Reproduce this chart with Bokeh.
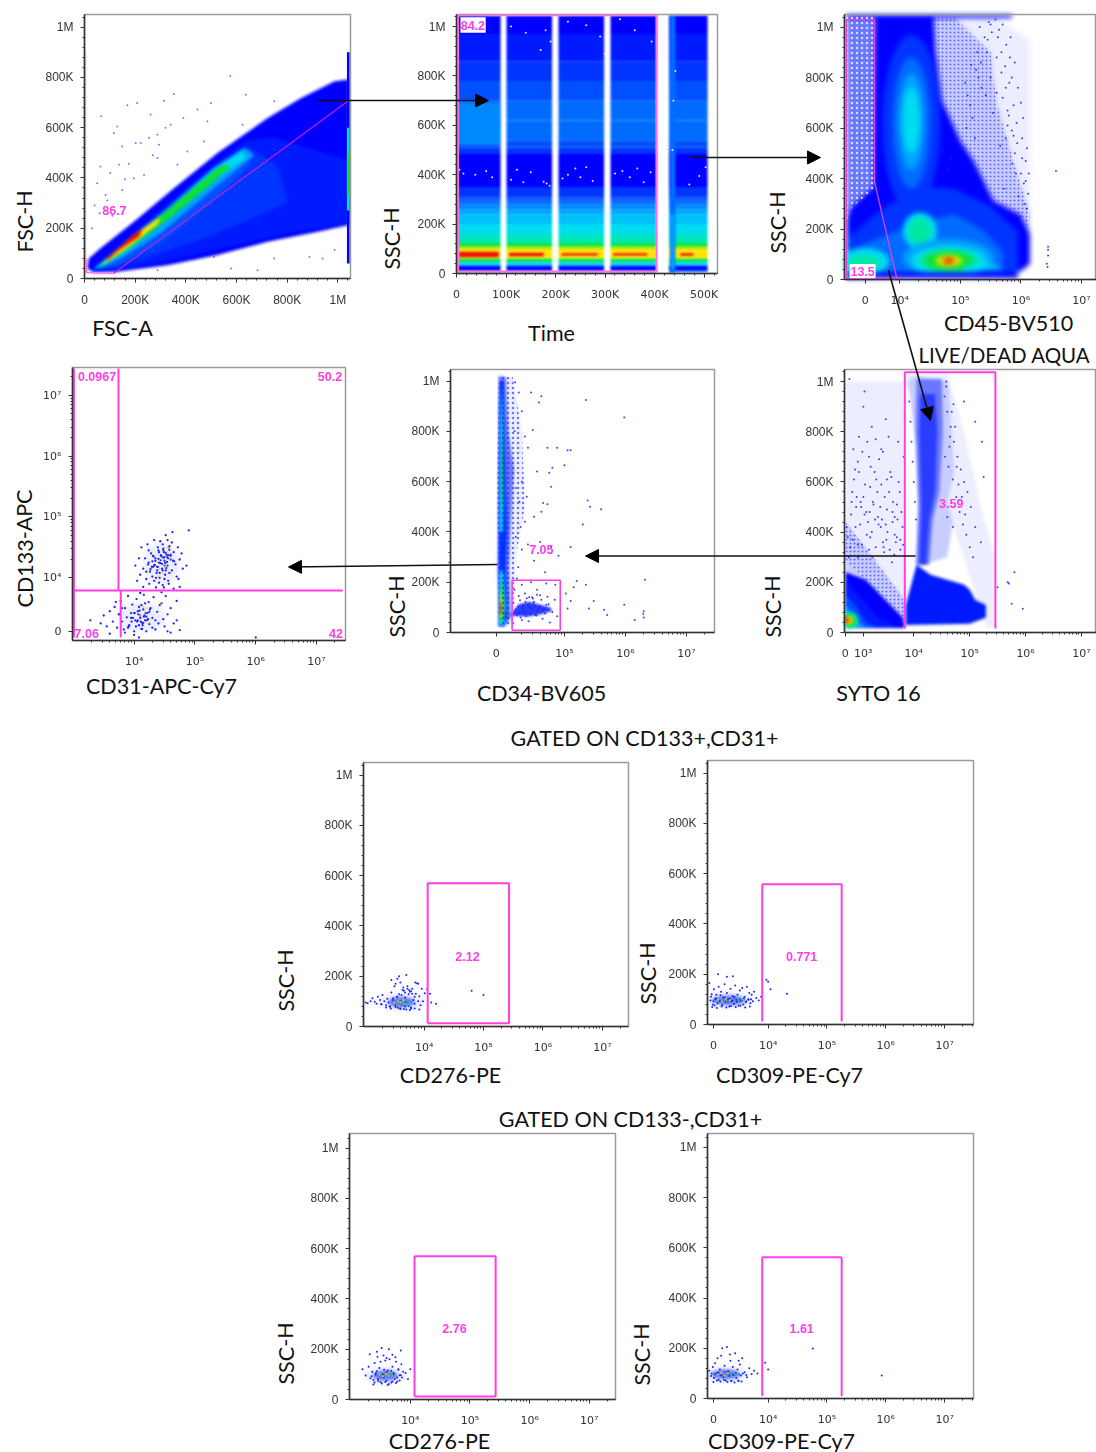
from bokeh.plotting import figure
from bokeh.models import FixedTicker, Range1d, Arrow, NormalHead
from bokeh.embed import file_html
from bokeh.resources import INLINE
from bokeh.core.properties import value
import math

# ---------- density palette (level -> colour) ----------
PALETTE = {-3: "#eceeff", -2: "#c8ccff", -1: "#6a78ff", -0.5: "#2a3cff", 0: "#0000ff", 0.5: "#001aff", 1: "#0034ff", 1.5: "#0050ff",
           2: "#006cff", 2.5: "#0088ff", 3: "#00a4ff", 3.5: "#00c0f8", 4: "#00dcf0", 4.5: "#00e4c8", 5: "#00e8a0", 6: "#10e030",
           7: "#a8f000", 8: "#ffe000", 9: "#ff8000", 10: "#f01000"}
MAGENTA = "#ff3ce6"

# ---------- axes ----------
k_ticks = [0, 200, 400, 600, 800, 1000]
k_labels = ["0", "200K", "400K", "600K", "800K", "1M"]
k_minor = [40, 80, 120, 160, 240, 280, 320, 360, 440, 480, 520, 560, 640, 680, 720, 760, 840, 880, 920, 960, 1040]
t_ticks = [0, 100, 200, 300, 400, 500]
t_labels = ["0", "100K", "200K", "300K", "400K", "500K"]
t_minor = [20, 40, 60, 80, 120, 140, 160, 180, 220, 240, 260, 280, 320, 340, 360, 380, 420, 440, 460, 480, 520]
dec_labels = ["10⁴", "10⁵", "10⁶", "10⁷"]
dec_ticks = [4, 5, 6, 7]

# ---------- panel 1: FSC-A / FSC-H (K) ----------
fsc_level = [0, 0.5, 1, 1.5, 3, 4, 6, 8, 10]
fsc_x = [[11, 17, 63, 195, 353, 525, 723, 855, 987, 1043, 1043, 921, 723, 525, 327, 129, 37],
         [30, 100, 200, 320, 510, 640, 750, 1043, 1043, 800, 500, 300, 130],
         [30, 100, 200, 320, 510, 640, 680, 760, 780, 800, 500, 300, 130],
         [30, 100, 200, 320, 510, 640, 670, 640, 500, 300, 130],
         [40, 100, 200, 320, 510, 630, 670, 500, 300, 150, 70],
         [45, 100, 200, 320, 510, 620, 640, 500, 300, 170, 80],
         [60, 100, 200, 315, 420, 540, 580, 480, 320, 180, 90],
         [70, 100, 190, 270, 300, 290, 180, 90],
         [80, 100, 195, 230, 215, 130, 95]]
fsc_y = [[40, 80, 120, 226, 359, 499, 638, 718, 785, 791, 213, 186, 146, 93, 53, 27, 24],
         [32, 95, 185, 285, 450, 550, 560, 470, 220, 180, 110, 65, 35],
         [32, 95, 182, 280, 445, 525, 500, 450, 380, 300, 170, 100, 45],
         [36, 92, 180, 275, 442, 522, 495, 440, 300, 140, 50],
         [40, 90, 175, 270, 440, 520, 490, 350, 180, 85, 45],
         [45, 90, 170, 265, 432, 505, 480, 385, 215, 110, 55],
         [55, 90, 170, 262, 350, 450, 450, 360, 228, 122, 66],
         [60, 88, 170, 225, 245, 218, 130, 68],
         [68, 90, 175, 198, 166, 108, 76]]
fsc_edge_lo = [60, 270, 330]
fsc_edge_hi = [900, 600, 500]
fsc_edge_level = [0, 4, 6]
fsc_dot_x = [575, 353, 314, 208, 169, 66, 129, 116, 222, 202, 149, 63, 136, 175, 235, 195, 50, 149, 83, 288, 294, 446, 390, 499, 637, 749,
             624, 485, 340, 261, 288, 367, 472, 406, 578, 683, 749, 288, 888, 940, 987, 512, 433, 102, 40, 90, 270, 320, 255, 160, 30, 110, 60]
fsc_dot_y = [805, 734, 707, 698, 689, 645, 605, 578, 539, 539, 525, 445, 452, 456, 412, 399, 379, 352, 332, 572, 532, 672, 638, 698, 731, 705,
             612, 625, 612, 652, 479, 452, 545, 505, 40, 33, 80, 33, 86, 80, 113, 86, 80, 420, 290, 310, 490, 600, 560, 395, 200, 250, 260]
fsc_gate_x = [8, 8, 116, 1039]
fsc_gate_y = [80, 24, 21, 705]

# ---------- panel 2: Time / SSC-H (K) ----------
time_band_start = [3, 101, 206, 311, 429]
time_band_end = [89, 193, 298, 404, 507]
time_low = [5, 13, 31, 42, 51, 60, 65, 89, 99, 109, 119, 140, 160, 200, 240, 260, 280, 295, 308, 350, 484, 510, 540, 620, 700, 780, 860, 970]
time_high = [13, 31, 42, 51, 60, 65, 89, 99, 109, 119, 140, 160, 200, 240, 260, 280, 295, 308, 350, 484, 510, 540, 620, 700, 780, 860, 970, 1045]
time_level = [2, 0, 3.5, 4.5, 6, 7, 8, 8, 7, 6, 5, 4.5, 4, 3.5, 3, 2.5, 2, 1.5, 1, 0, 1, 1.5, 2, 2, 1.5, 1, 0.5, 0]
time_red_start = [5, 106, 212, 316, 452]
time_red_end = [85, 176, 285, 385, 478]
time_red_low = [66, 70, 73, 73, 72]
time_red_high = [88, 84, 82, 82, 82]
time_bright_start = [3]
time_bright_end = [89]
time_bright_low = [520]
time_bright_high = [690]
time_white_x = [6, 14, 38, 60, 72, 110, 122, 135, 150, 176, 182, 188, 214, 225, 240, 250, 262, 275, 320, 335, 350, 365, 378, 392, 470, 490,
                503, 110, 140, 180, 190, 225, 262, 290, 330, 360, 394, 170, 300, 438, 442, 436]
time_white_y = [420, 405, 400, 415, 390, 380, 420, 370, 410, 372, 365, 355, 385, 400, 425, 390, 430, 375, 405, 415, 390, 425, 370, 410, 360, 395,
                430, 1000, 975, 985, 940, 1020, 1005, 960, 1030, 985, 940, 905, 890, 700, 820, 500]
time_strip_start = [431, 433]
time_strip_end = [442, 440]
time_strip_low = [0, 20]
time_strip_high = [1045, 240]
time_strip_level = [2, 3]

# ---------- panel 3: CD45 (decades) / SSC-H (K) ----------
cd45_x_ticks = [3.43, 4, 5, 6, 7]
cd45_x_labels = ["0", "10⁴", "10⁵", "10⁶", "10⁷"]
cd45_level = [-1, -3, -2, 0, 1, 2]
cd45_x = [[3.12, 3.12, 3.6, 3.6, 3.21],
          [4.9, 5.55, 6.15, 6.15, 5.9, 5.6, 5.5],
          [4.56, 4.9, 5.5, 5.6, 5.9, 6.15, 6.15, 5.99, 5.55, 5.22, 5.0, 4.7, 4.59],
          [3.12, 3.12, 3.21, 3.57, 3.6, 4.56, 4.59, 4.7, 5.0, 5.22, 5.55, 5.99, 6.15, 6.15, 5.99, 5.55, 3.9],
          [3.12, 3.12, 3.6, 4.3, 4.9, 5.5, 5.95, 5.95, 3.9],
          [3.14, 3.14, 3.7, 4.4, 4.9, 5.4, 5.7, 5.7, 3.9]]
cd45_y = [[233, 1045, 1045, 365, 286],
          [1040, 1040, 950, 260, 450, 700, 900],
          [1040, 1040, 900, 700, 450, 260, 180, 259, 312, 471, 550, 709, 907],
          [1, 233, 286, 365, 1040, 1040, 907, 709, 550, 471, 312, 259, 180, 61, 32, 15, 8],
          [30, 160, 260, 370, 360, 290, 190, 30, 25],
          [30, 110, 170, 230, 260, 190, 110, 30, 28]]
cd45_left_x = [[3.12, 3.12, 3.6, 3.6, 3.21]]
cd45_left_y = [[233, 1045, 1045, 365, 286]]
cd45_dense_x = [[4.56, 4.9, 5.5, 5.6, 5.9, 6.15, 6.15, 5.99, 5.55, 5.22, 5.0, 4.7, 4.59]]
cd45_dense_y = [[1040, 1040, 900, 700, 450, 260, 180, 259, 312, 471, 550, 709, 907]]
cd45_e_x = [4.19, 4.19, 4.19, 4.19, 4.19, 4.33, 4.33, 4.8, 4.81, 4.81, 4.81, 4.81, 4.81, 4.81, 4.81, 5.35, 3.42, 3.42]
cd45_e_y = [620, 620, 625, 630, 630, 193, 190, 85, 74, 74, 74, 74, 74, 74, 74, 52, 72, 68]
cd45_e_w = [.95, .62, .42, .28, .2, .56, .37, 1.5, 1.25, 1.0, .78, .46, .33, .23, .14, .6, .8, .52]
cd45_e_h = [700, 520, 380, 260, 190, 145, 105, 150, 115, 95, 72, 48, 38, 28, 17, 22, 105, 56]
cd45_e_level = [1, 2, 3, 4, 4, 4, 5, 3, 4, 5, 6, 7, 8, 9, 10, 4, 4, 5]
cd45_strip_start = [3.12, 3.12, 3.12]
cd45_strip_end = [5.95, 3.14, 5.85]
cd45_strip_low = [5, 5, 1036]
cd45_strip_high = [28, 240, 1050]
cd45_strip_level = [0, 4, 0]
cd45_gate_x = [3.12, 3.12, 3.58, 3.58, 3.95, 3.12]
cd45_gate_y = [5, 1030, 1030, 390, 5, 5]
cd45_dot_x = [6.45, 6.45, 6.45, 6.43, 6.44, 6.58, 5.1, 4.95, 5.05, 4.85, 5.2, 4.8, 4.7, 5.3, 5.35, 5.7, 5.8, 5.75, 5.9, 6.0, 6.05, 5.85, 5.6, 5.45, 5.5,
              5.62, 5.68, 5.74, 5.81, 5.88, 5.93, 6.02, 6.08, 6.12, 5.96, 5.78, 5.66, 5.54, 5.42, 5.34, 5.28, 5.16, 5.08, 5.24, 5.92, 6.1, 5.86, 5.72, 5.98, 6.06,
              5.58, 5.64, 5.7, 5.76, 5.83, 5.9, 5.95, 6.0, 6.04, 6.1, 6.13, 5.52, 5.47, 5.4, 5.32, 5.26, 5.18, 5.12, 5.68, 5.75, 5.82, 5.88, 5.94, 6.02, 6.08, 5.6, 5.5, 5.44, 5.78, 5.85]
cd45_dot_y = [130, 118, 95, 62, 50, 430, 600, 560, 520, 480, 640, 440, 510, 800, 760, 720, 650, 560, 500, 420, 380, 800, 880, 950, 1010,
              960, 900, 845, 780, 690, 620, 560, 470, 340, 330, 610, 530, 660, 730, 860, 900, 690, 780, 560, 420, 280, 460, 360, 250, 300,
              1030, 990, 1010, 930, 960, 860, 760, 700, 640, 520, 420, 980, 1020, 960, 1000, 830, 850, 730, 820, 760, 880, 570, 540, 480, 390, 740, 800, 900, 670, 590]

# ---------- panel 4: CD31 / CD133 (decades) ----------
cd133_x_ticks = [4, 5, 6, 7]
cd133_y_ticks = [3.12, 4, 5, 6, 7]
cd133_y_labels = ["0", "10⁴", "10⁵", "10⁶", "10⁷"]
cd133_x = [4.02, 4.05, 4.1, 4.12, 4.15, 4.18, 4.2, 4.22, 4.24, 4.25, 4.28, 4.3, 4.31, 4.33, 4.35, 4.36, 4.38, 4.4, 4.41, 4.42, 4.43, 4.45,
           4.46, 4.47, 4.48, 4.5, 4.51, 4.52, 4.53, 4.55, 4.56, 4.58, 4.6, 4.62, 4.63, 4.65, 4.68, 4.7, 4.72, 4.75, 4.78, 4.8, 4.86, 4.9, 4.75,
           4.5, 4.52, 4.54, 4.56, 4.46, 4.44, 4.4, 4.38, 4.34, 4.3, 4.27, 4.23, 4.48, 4.5, 4.53, 4.57, 4.6, 4.66, 4.5, 4.42, 4.36, 4.58, 4.2,
           4.62, 4.55, 4.47, 4.39, 4.31, 4.24, 4.15, 4.08, 4.33, 4.41, 4.49, 4.57, 4.65, 4.73,
           3.28, 3.45, 3.5, 3.55, 3.6, 3.65, 3.68, 3.72, 3.75, 3.78, 3.8, 3.83, 3.85, 3.88, 3.9, 3.92, 3.95, 3.97, 4.0, 4.02, 4.04, 4.06, 4.08,
           4.1, 4.12, 4.13, 4.15, 4.16, 4.18, 4.2, 4.22, 4.24, 4.25, 4.27, 4.3, 4.32, 4.35, 4.38, 4.4, 4.45, 4.48, 4.52, 4.55, 4.6, 4.65, 4.7, 4.75,
           3.85, 3.9, 3.95, 4.0, 4.05, 4.1, 4.15, 4.2, 4.25, 4.3, 4.35, 3.75, 3.8, 4.45, 4.5, 4.55, 4.6, 4.7, 3.6, 3.7, 4.0, 4.1, 6.0, 4.08, 4.42,
           4.49, 4.54, 4.58, 4.44, 4.39, 4.35, 4.51, 4.56, 4.47, 4.43, 4.37, 4.29, 4.26, 4.32, 4.6, 4.64, 4.52, 4.48, 4.41, 4.33, 4.07, 4.11, 4.16, 4.21, 4.09, 4.14, 4.19, 4.06, 4.03, 3.98, 4.13, 4.17, 4.23, 4.01, 3.96, 3.91, 4.26, 4.18, 4.08, 4.12]
cd133_y = [4.2, 3.95, 4.05, 4.5, 3.85, 4.32, 4.1, 4.55, 4.25, 3.9, 4.4, 4.02, 4.18, 4.62, 4.32, 3.84, 4.12, 4.45, 4.25, 4.0, 4.6, 4.35,
           4.15, 3.88, 4.48, 4.28, 4.05, 4.7, 4.38, 4.2, 3.95, 4.52, 4.3, 4.12, 4.75, 4.42, 4.22, 4.02, 4.5, 4.3, 4.4, 4.15, 4.2, 4.78, 3.85,
           4.34, 4.41, 4.26, 4.37, 4.23, 4.29, 4.31, 4.18, 4.21, 4.27, 4.14, 4.22, 4.45, 4.2, 4.16, 4.5, 4.36, 4.27, 3.98, 4.08, 4.0, 4.08, 3.98,
           4.58, 4.62, 4.55, 4.5, 4.36, 4.45, 4.15, 4.32, 3.95, 3.92, 3.84, 3.9, 3.82, 3.98,
           3.3, 3.25, 3.38, 3.2, 3.45, 3.28, 3.52, 3.18, 3.4, 3.62, 3.28, 3.15, 3.5, 3.35, 3.7, 3.22, 3.42, 3.56, 3.12, 3.3, 3.65, 3.45, 3.22,
           3.38, 3.55, 3.16, 3.48, 3.72, 3.3, 3.12, 3.42, 3.6, 3.24, 3.5, 3.34, 3.68, 3.15, 3.44, 3.25, 3.58, 3.32, 3.7, 3.12, 3.5, 3.25, 3.62, 3.14,
           3.1, 3.18, 3.34, 3.42, 3.28, 3.34, 3.26, 3.36, 3.44, 3.18, 3.3, 3.4, 3.5, 3.76, 3.2, 3.4, 3.1, 3.3, 3.08, 3.6, 3.06, 3.75, 3.02, 3.02, 3.55,
           4.42, 4.34, 4.46, 4.37, 4.18, 4.28, 4.24, 4.32, 4.12, 4.24, 4.08, 4.18, 4.1, 4.35, 4.38, 4.28, 4.12, 4.33, 4.42, 4.2, 3.4, 3.28, 3.36, 3.3, 3.46, 3.22, 3.42, 3.3, 3.2, 3.34, 3.26, 3.38, 3.32, 3.42, 3.28, 3.2, 3.48, 3.58, 3.52, 3.16]
cd133_hot_x = [4.45, 4.5, 4.52, 4.42, 4.38, 4.55, 4.47, 4.56, 4.15, 4.18, 4.1, 4.25, 4.2, 4.4, 4.58]
cd133_hot_y = [4.3, 4.22, 4.35, 4.15, 4.25, 4.42, 4.08, 4.5, 3.52, 3.44, 3.38, 3.26, 3.5, 4.02, 4.3]
cd133_blob_x = [4.44, 4.12]
cd133_blob_y = [4.23, 3.35]
cd133_blob_w = [.6, .8]
cd133_blob_h = [.7, .5]
cd133_blob_level = [-3, -3]
cd133_gate_x = [[3.01, 3.01], [3.743, 3.743], [3.01, 7.43], [3.78, 3.78]]
cd133_gate_y = [[3.02, 7.44], [3.79, 7.44], [3.79, 3.79], [3.79, 3.02]]

# ---------- panel 5: CD34 / SSC-H ----------
cd34_x_ticks = [3.88, 5, 6, 7]
cd34_x_labels = ["0", "10⁵", "10⁶", "10⁷"]
cd34_level = [-3, -1, 1, 3, 4, 4, 5, 6, 6, 8, 10]
cd34_x = [[3.92, 3.9, 3.92, 4.15, 4.3, 4.35, 4.2, 4.15, 4.2],
          [3.92, 3.9, 3.92, 4.04, 4.08, 4.17, 4.12, 4.09, 4.12, 4.02],
          [3.91, 3.92, 3.93, 4.0, 4.03, 4.06, 4.04, 4.06, 4.0],
          [3.92, 3.93, 3.95, 3.98, 4.02, 4.0, 4.03, 3.98],
          [3.94, 3.95, 3.97, 3.99, 4.0, 3.99],
          [3.92, 3.93, 3.96, 4.0, 4.03, 4.0],
          [3.95, 3.97, 3.985, 3.995, 3.98],
          [3.96, 3.97, 3.985, 3.99, 3.98],
          [3.93, 3.94, 3.97, 4.0, 4.01, 3.98],
          [3.94, 3.95, 3.97, 3.985, 3.97],
          [3.94, 3.945, 3.96, 3.97, 3.955]]
cd34_y = [[30, 600, 1016, 1016, 800, 500, 300, 60, 25],
          [25, 250, 1020, 1016, 800, 650, 420, 259, 60, 22],
          [25, 300, 1000, 1000, 700, 420, 259, 60, 25],
          [30, 240, 246, 240, 120, 60, 40, 30],
          [400, 800, 990, 800, 520, 400],
          [30, 140, 250, 240, 100, 30],
          [440, 800, 970, 760, 520],
          [500, 700, 800, 620, 540],
          [45, 140, 220, 160, 70, 45],
          [60, 120, 180, 110, 60],
          [70, 110, 130, 95, 68]]
cd34_h_x = [4.1, 4.25, 4.42, 4.6, 4.76, 4.8, 4.6, 4.4, 4.2, 4.1]
cd34_h_y = [66, 112, 122, 110, 100, 86, 72, 64, 66, 66]
cd34_sparse_x = [[3.92, 3.9, 3.92, 4.15, 4.3, 4.35, 4.2, 4.15, 4.2]]
cd34_sparse_y = [[30, 600, 1016, 1016, 800, 500, 300, 60, 25]]
cd34_gate_x = [4.14, 4.14, 4.93, 4.93, 4.14]
cd34_gate_y = [9, 208, 208, 9, 9]
cd34_dot_x = [4.19, 4.25, 4.3, 4.18, 4.45, 4.62, 4.58, 5.35, 5.98, 4.48, 4.35, 4.4, 4.72, 4.88, 5.05, 5.1, 5.0, 4.75, 4.8, 4.3, 4.55, 4.2, 4.78,
              4.26, 4.38, 4.5, 4.62, 4.65, 4.72, 5.38, 5.6, 5.42, 5.3, 4.28, 4.35, 4.2, 4.4, 4.6, 4.78, 4.9, 5.1, 4.3, 4.5, 4.68, 4.24, 4.22, 4.18,
              4.3, 4.45, 4.55, 4.7, 4.85, 5.02, 5.15, 5.1, 5.2, 5.35, 5.4, 5.48, 5.65, 5.7, 5.98, 6.15, 6.3, 6.3, 6.32, 6.29,
              4.42, 4.55, 4.25, 4.35, 4.48, 4.6, 4.72, 4.84, 4.3, 4.41, 4.52, 4.64, 4.76, 4.88,
              4.16, 4.22, 4.27, 4.33, 4.38, 4.44, 4.5, 4.56, 4.62, 4.68, 4.74, 4.2, 4.26, 4.32, 4.37, 4.43, 4.49, 4.55, 4.6, 4.66, 4.18, 4.24, 4.3, 4.36, 4.46, 4.52, 4.58, 4.64, 4.28, 4.4, 4.47, 4.54, 4.34, 4.7, 4.8, 5.05]
cd34_dot_y = [995, 955, 880, 800, 955, 940, 915, 925, 855, 805, 780, 735, 735, 735, 725, 725, 665, 635, 655, 600, 640, 575, 580,
              520, 540, 460, 480, 515, 510, 525, 490, 500, 430, 420, 440, 380, 350, 360, 340, 305, 340, 330, 285, 240, 260, 215, 170,
              190, 200, 170, 195, 190, 155, 180, 125, 205, 190, 95, 125, 90, 70, 110, 50, 85, 60, 210, 75,
              140, 150, 145, 155, 135, 148, 142, 130, 50, 45, 70, 55, 40, 65,
              118, 70, 128, 84, 136, 72, 122, 88, 130, 76, 112, 92, 78, 108, 66, 100, 116, 82, 104, 92, 84, 102, 96, 122, 94, 106, 98, 88, 60, 110, 140, 68, 74, 110, 82, 95]

# ---------- panel 6: SYTO 16 / SSC-H ----------
syto_x_ticks = [2.774, 3.095, 4, 5, 6, 7]
syto_x_labels = ["0", "10³", "10⁴", "10⁵", "10⁶", "10⁷"]
syto_level = [-3, -3, -2, -2, -2, -1, -0.5, 0.5, 0, 0.5, 1.5, 3, 4]
syto_x = [[2.78, 2.78, 3.85, 3.85, 3.3],
          [3.86, 3.9, 4.1, 4.6, 4.9, 5.2, 5.45, 5.45, 5.3],
          [2.78, 2.78, 3.2, 3.8, 3.85, 3.85],
          [3.9, 3.98, 4.02, 4.08, 4.62, 4.72, 4.6, 4.7, 4.6, 4.3],
          [2.78, 2.78, 3.2, 3.85, 3.85],
          [4.04, 4.08, 4.03, 4.05, 4.5, 4.52, 4.46, 4.34, 4.28],
          [4.1, 4.14, 4.1, 4.12, 4.38, 4.42, 4.38, 4.28, 4.22],
          [3.86, 3.86, 4.05, 4.3, 4.9, 5.0, 5.1, 5.29, 5.29, 5.0],
          [2.78, 2.78, 3.14, 3.8, 3.83, 3.83],
          [2.78, 2.78, 3.0, 3.36, 3.65, 3.65],
          [2.78, 2.78, 2.95, 3.15, 3.3, 3.3],
          [2.78, 2.78, 2.88, 3.05, 3.12, 3.12],
          [2.78, 2.78, 2.85, 2.98, 3.0, 2.95]]
syto_y = [[300, 1000, 1000, 90, 130],
          [1000, 1030, 1030, 1030, 800, 500, 300, 20, 20],
          [290, 440, 320, 140, 90, 30],
          [1000, 1020, 1020, 1020, 1000, 640, 520, 440, 300, 280],
          [20, 300, 240, 76, 18],
          [270, 500, 800, 1010, 1010, 800, 560, 450, 270],
          [270, 500, 800, 950, 950, 800, 560, 450, 270],
          [30, 110, 270, 230, 190, 170, 130, 110, 60, 35],
          [18, 240, 210, 60, 30, 18],
          [18, 200, 150, 60, 28, 18],
          [20, 150, 110, 40, 25, 20],
          [22, 110, 80, 36, 28, 22],
          [24, 90, 62, 40, 30, 24]]
syto_dense_x = [[2.78, 2.78, 3.2, 3.8, 3.85, 3.85]]
syto_dense_y = [[290, 440, 320, 140, 90, 30]]
syto_e_x = [2.86, 2.85, 2.85, 2.85, 2.79]
syto_e_y = [48, 48, 48, 48, 50]
syto_e_w = [.3, .2, .12, .08, .04]
syto_e_h = [70, 48, 32, 20, 30]
syto_e_level = [5, 6, 8, 9, 10]
syto_gate_x = [3.84, 3.84, 5.46, 5.46]
syto_gate_y = [16, 1037, 1037, 16]
syto_dot_x = [2.85, 2.95, 3.1, 3.25, 3.5, 3.55, 3.45, 3.2, 3.0, 3.3, 3.6, 3.75, 3.7, 3.35, 3.05, 3.15, 3.4, 3.62, 3.78, 2.9, 3.25, 3.5, 3.7, 3.0, 3.2, 3.45, 3.65, 5.68, 5.7, 5.8, 5.95, 5.75, 4.9, 5.1, 5.22, 5.25, 5.5,
              2.82, 2.88, 2.93, 2.98, 3.04, 3.08, 3.13, 3.18, 3.23, 3.28, 3.33, 3.38, 3.43, 3.48, 3.53, 3.58, 3.63, 3.68, 3.73, 3.8, 2.84, 2.91, 2.97, 3.02, 3.07, 3.12, 3.17, 3.22, 3.27, 3.32, 3.37, 3.42, 3.47, 3.52, 3.57, 3.66, 3.76,
              4.55, 4.6, 4.66, 4.72, 4.78, 4.84, 4.9, 4.96, 5.02, 5.1, 5.2, 4.58, 4.64, 4.7, 4.76, 4.82, 4.88, 4.94, 5.0, 5.06, 3.92, 3.96, 4.0, 4.04, 3.94, 3.98, 4.02,
              2.86, 2.96, 3.06, 3.16, 3.26, 3.36, 3.46, 3.56, 3.66, 3.76, 3.82, 2.92, 3.02, 3.12, 3.22, 3.32, 3.42, 3.52, 3.62, 3.72, 2.8, 2.89, 3.0, 3.1, 3.21, 3.31, 3.41, 3.51, 3.61, 3.71, 3.81, 4.56, 4.62, 4.68, 4.74, 4.8, 4.86, 4.92, 4.58, 4.65, 4.71, 4.77, 4.6, 4.7]
syto_dot_y = [1010, 650, 900, 820, 850, 780, 720, 700, 680, 640, 620, 560, 510, 560, 520, 480, 500, 440, 480, 560, 400, 430, 380, 350, 330, 360, 310, 200, 195, 240, 95, 115, 920, 840, 760, 620, 180,
              380, 470, 610, 540, 430, 720, 590, 440, 660, 510, 610, 690, 450, 540, 400, 640, 520, 360, 600, 420, 300, 370, 500, 640, 350, 470, 760, 380, 520, 340, 430, 590, 320, 490, 330, 460, 370,
              940, 880, 820, 760, 700, 650, 600, 560, 500, 420, 360, 980, 740, 610, 540, 480, 430, 390, 340, 300, 920, 760, 600, 450, 840, 680, 520,
              340, 420, 500, 390, 300, 460, 340, 560, 390, 330, 700, 730, 780, 960, 580, 770, 730, 610, 480, 760, 420, 520, 300, 540, 480, 450, 420, 370, 280, 450, 350, 700, 660, 880, 820, 590, 540, 470, 1000, 780, 910, 660, 460, 420]

# ---------- lower panels ----------
low_x_ticks = [4, 5, 6, 7]
low0_x_ticks = [3.07, 4, 5, 6, 7]
low0_x_labels = ["0", "10⁴", "10⁵", "10⁶", "10⁷"]

cd276a_x = [3.02, 3.05, 3.1, 3.13, 3.17, 3.2, 3.22, 3.26, 3.28, 3.3, 3.33, 3.36, 3.38, 3.4, 3.43, 3.45, 3.47, 3.5, 3.52, 3.54, 3.56, 3.58, 3.6, 3.62, 3.64, 3.66,
            3.68, 3.7, 3.72, 3.74, 3.76, 3.78, 3.8, 3.82, 3.84, 3.86, 3.88, 3.9, 3.92, 3.94, 3.96, 3.98, 4.01, 4.05, 4.1, 4.12, 4.2, 3.45, 3.5, 3.55, 3.6, 3.65,
            3.7, 3.75, 3.8, 3.85, 3.9, 3.55, 3.62, 3.68, 3.74, 3.78, 3.84, 3.48, 3.58, 3.66, 3.72, 3.42, 3.52, 3.6, 3.7, 3.78, 4.8, 5.0, 3.28, 3.36, 3.44, 3.52, 3.6, 3.68, 3.76, 3.84, 3.92]
cd276a_y = [95, 92, 100, 112, 98, 90, 118, 105, 88, 125, 100, 85, 110, 95, 80, 135, 105, 90, 170, 118, 75, 200, 100, 85, 145, 70, 115, 98, 160, 82, 138, 72, 150, 105, 90, 130, 172, 100, 120, 85, 150, 100, 132, 148, 130, 95, 90, 185, 160, 190, 175, 155, 205, 145, 130, 175, 170, 118, 125, 135, 128, 140, 118, 112, 128, 142, 150, 80, 78, 72, 68, 76, 142, 125, 88, 76, 72, 84, 70, 80, 66, 72, 68]
cd276a_hot_x = [3.5, 3.56, 3.6, 3.65, 3.68, 3.72, 3.76, 3.62, 3.54, 3.7, 3.58, 3.66, 3.74]
cd276a_hot_y = [92, 100, 96, 105, 88, 98, 94, 86, 84, 104, 108, 92, 86]
cd276a_blob_x = [3.62, 3.62]
cd276a_blob_y = [97, 97]
cd276a_blob_w = [.8, .45]
cd276a_blob_h = [75, 42]
cd276a_gate_x = [4.06, 4.06, 5.43, 5.43, 4.06]
cd276a_gate_y = [13, 570, 570, 13, 13]

cd309a_x = [3.0, 3.02, 3.04, 3.06, 3.08, 3.1, 3.12, 3.14, 3.16, 3.18, 3.2, 3.22, 3.24, 3.26, 3.28, 3.3, 3.32, 3.34, 3.36, 3.38, 3.4, 3.42, 3.44, 3.46, 3.48, 3.5, 3.52, 3.54, 3.56, 3.58, 3.6, 3.62, 3.64, 3.66, 3.68, 3.7, 3.72, 3.74, 3.76, 3.8, 3.84,
            3.03, 3.07, 3.11, 3.15, 3.19, 3.23, 3.27, 3.31, 3.35, 3.39, 3.43, 3.47, 3.51, 3.55, 3.59, 3.63, 3.67, 3.71, 3.05, 3.09, 3.13, 3.21, 3.29, 3.37, 3.45, 3.53, 3.61, 3.69, 3.97, 4.0, 4.04, 4.32, 3.88, 3.15, 3.3, 3.4]
cd309a_y = [165, 95, 120, 80, 140, 100, 118, 85, 150, 92, 130, 78, 108, 160, 88, 125, 100, 72, 142, 92, 112, 82, 155, 98, 118, 75, 135, 95, 145, 80, 110, 88, 150, 100, 125, 85, 118, 92, 130, 105, 95,
            110, 92, 104, 98, 116, 94, 106, 90, 102, 96, 108, 90, 100, 94, 104, 92, 98, 100, 70, 76, 66, 72, 68, 74, 70, 76, 68, 72, 178, 170, 140, 122, 110, 200, 190, 192]
cd309a_hot_x = [3.15, 3.22, 3.28, 3.35, 3.42, 3.5, 3.56, 3.1, 3.3, 3.46, 3.6, 3.2, 3.38]
cd309a_hot_y = [98, 92, 102, 96, 90, 100, 94, 90, 90, 104, 98, 104, 100]
cd309a_blob_x = [3.33, 3.33]
cd309a_blob_y = [97, 96]
cd309a_blob_w = [.85, .55]
cd309a_blob_h = [70, 38]
cd309a_gate_x = [[3.9, 3.9], [5.25, 5.25], [3.9, 5.25]]
cd309a_gate_y = [[12, 558], [12, 558], [558, 558]]

cd276b_x = [3.2, 3.25, 3.3, 3.33, 3.36, 3.38, 3.4, 3.42, 3.44, 3.46, 3.48, 3.5, 3.52, 3.54, 3.56, 3.58, 3.6, 3.62, 3.64, 3.66, 3.68, 3.7, 3.72, 3.74, 3.76, 3.78, 3.8, 3.82, 3.84, 3.86, 3.88, 3.92, 3.96, 4.0,
            3.35, 3.42, 3.48, 3.54, 3.6, 3.66, 3.72, 3.78, 3.84, 3.4, 3.46, 3.52, 3.58, 3.64, 3.7, 3.76, 3.82, 3.32, 3.45, 3.55, 3.65, 3.75, 3.85, 3.5, 3.6, 3.7, 3.44, 3.56, 3.68, 3.8, 3.38, 3.62]
cd276b_y = [120, 95, 130, 85, 110, 78, 145, 98, 190, 82, 125, 70, 205, 100, 88, 155, 75, 115, 200, 92, 68, 130, 105, 82, 150, 72, 118, 96, 195, 88, 110, 105, 82, 120,
            92, 104, 96, 90, 108, 94, 100, 88, 96, 68, 74, 64, 70, 62, 72, 66, 76, 180, 170, 175, 160, 168, 140, 150, 165, 178, 112, 118, 114, 120, 60, 58]
cd276b_hot_x = [3.48, 3.54, 3.6, 3.65, 3.7, 3.58, 3.62, 3.52, 3.68, 3.75, 3.44, 3.66]
cd276b_hot_y = [98, 92, 100, 94, 98, 88, 106, 104, 90, 94, 92, 104]
cd276b_blob_x = [3.58, 3.58]
cd276b_blob_y = [95, 95]
cd276b_blob_w = [.7, .42]
cd276b_blob_h = [72, 40]
cd276b_gate_x = [4.07, 4.07, 5.43, 5.43, 4.07]
cd276b_gate_y = [12, 570, 570, 12, 12]

cd309b_x = [3.0, 3.03, 3.06, 3.08, 3.1, 3.12, 3.14, 3.16, 3.18, 3.2, 3.22, 3.24, 3.26, 3.28, 3.3, 3.32, 3.34, 3.36, 3.38, 3.4, 3.42, 3.44, 3.46, 3.48, 3.5, 3.52, 3.54, 3.56, 3.6, 3.64, 3.68, 3.72, 3.76, 3.82,
            3.04, 3.09, 3.15, 3.21, 3.27, 3.33, 3.39, 3.45, 3.51, 3.57, 3.63, 3.07, 3.13, 3.19, 3.25, 3.31, 3.37, 3.43, 3.49, 3.55, 3.2, 3.35, 3.5, 3.95, 4.0, 4.76, 5.93]
cd309b_y = [110, 90, 125, 82, 140, 100, 160, 75, 115, 92, 200, 85, 130, 72, 205, 108, 90, 150, 70, 125, 95, 180, 82, 115, 70, 135, 92, 160, 105, 85, 120, 98, 110, 100,
            100, 96, 104, 92, 106, 98, 94, 102, 96, 100, 94, 66, 72, 68, 74, 66, 70, 64, 72, 68, 170, 175, 150, 142, 115, 199, 92]
cd309b_hot_x = [3.14, 3.2, 3.26, 3.32, 3.38, 3.44, 3.1, 3.28, 3.5, 3.36, 3.22]
cd309b_hot_y = [96, 102, 92, 100, 94, 98, 92, 106, 96, 88, 88]
cd309b_blob_x = [3.28, 3.28]
cd309b_blob_y = [96, 96]
cd309b_blob_w = [.75, .48]
cd309b_blob_h = [68, 38]
cd309b_gate_x = [[3.9, 3.9], [5.25, 5.25], [3.9, 5.25]]
cd309b_gate_y = [[10, 562], [10, 562], [562, 562]]

# ---------- page-level annotation (page pixels) ----------
arrow_x0 = [317, 691, 888, 915, 497]
arrow_y0 = [100, 157, 270, 555.5, 564]
arrow_x1 = [488, 820, 930, 585, 288]
arrow_y1 = [100, 157, 420, 555.5, 566.5]
title_text = ["FSC-A", "Time", "CD45-BV510", "CD31-APC-Cy7", "CD34-BV605", "SYTO 16", "GATED ON CD133+,CD31+", "CD276-PE", "CD309-PE-Cy7",
              "GATED ON CD133-,CD31+", "CD276-PE", "CD309-PE-Cy7"]
title_x = [122, 551, 1008, 161, 541, 878, 644, 450, 789, 630, 439, 781]
title_y = [327, 332, 322, 685, 692, 692, 737, 1074, 1074, 1118, 1440, 1440]
ylab_text = ["FSC-H", "SSC-H", "SSC-H", "CD133-APC", "SSC-H", "SSC-H", "SSC-H", "SSC-H", "SSC-H", "SSC-H"]
ylab_x = [24, 391, 777, 24, 396, 772, 285, 647, 285, 641]
ylab_y = [221, 238, 222, 548, 606, 606, 980, 973, 1353, 1354]


def log_minor(lo, hi):
    out = []
    for d in range(lo, hi):
        for m in (2, 3, 4, 5, 6, 7, 8, 9):
            out.append(d + math.log10(m))
    return out


BL, BB, BT = 60, 34, 4
WIN_W, WIN_H = 1096, 1452


def panel(fl, ft, fr, fb, xr, yr, xt, xl, xm, yt, yl, ym, clip=False, blur=2.5):
    br = 0 if clip else 16
    common = dict(width=fr - fl + BL + br, height=fb - ft + BT + BB, output_backend="svg", toolbar_location=None,
                  min_border_left=BL, min_border_right=br, min_border_top=BT, min_border_bottom=BB)
    pos = {"position": "absolute", "left": f"{fl - BL}px", "top": f"{ft - BT}px"}
    d = figure(x_range=Range1d(*xr), y_range=Range1d(*yr), x_axis_type=None, y_axis_type=None,
               outline_line_color=None, **common, styles={**pos, "filter": f"blur({blur}px)"})
    d.grid.visible = False
    p = figure(x_range=d.x_range, y_range=d.y_range, background_fill_color=None, border_fill_color=None, **common,
               styles={**pos, "filter": "blur(0.4px)"})
    p.grid.visible = False
    p.outline_line_color = "#9a9a9a"
    p.outline_line_width = 1.5
    for ax, t, l, m, so in ((p.xaxis[0], xt, xl, xm, 10), (p.yaxis[0], yt, yl, ym, 7)):
        is_dec = any("10" in s for s in l)
        ax.ticker = FixedTicker(ticks=t, minor_ticks=m)
        ax.major_label_overrides = dict(zip(t, l))
        ax.major_label_standoff = so
        ax.major_label_text_font = "DejaVu Sans" if is_dec else "Liberation Sans"
        ax.major_label_text_font_size = "11px" if is_dec else "12px"
        ax.major_label_text_color = "#333333"
        ax.major_tick_out = 4
        ax.major_tick_in = 0
        ax.minor_tick_out = 2
        ax.minor_tick_in = 0
        ax.axis_line_color = "#333333"
        ax.axis_line_width = 1.5
        ax.major_tick_line_color = "#333333"
        ax.minor_tick_line_color = "#333333"
    panels.extend([d, p])
    return d, p


def polys(p, xs, ys, levels):
    for x, y, l in zip(xs, ys, levels):
        p.patch(x, y, fill_color=PALETTE[l], line_color=None)


def ellipses(p, x, y, w, h, levels):
    p.ellipse(x, y, width=w, height=h, fill_color=[PALETTE[l] for l in levels], line_color=None)


def spans(p, l, r, b, t, levels):
    p.quad(left=l, right=r, bottom=b, top=t, fill_color=[PALETTE[i] for i in levels], line_color=None)


def dots(p, x, y, color="#1a22ff", size=2.0, alpha=0.85):
    p.scatter(x, y, size=size, fill_color=color, fill_alpha=alpha, line_color=None)


def hatch(p, xs, ys, scale=6, weight=0.45, color="#1a22ff", alpha=0.6):
    for x, y in zip(xs, ys):
        p.patch(x, y, fill_alpha=0, line_color=None, hatch_pattern="dot", hatch_color=color,
                hatch_scale=scale, hatch_weight=weight, hatch_alpha=alpha)


def gate(p, x, y, width=1.6, color=MAGENTA):
    p.line(x, y, line_color=color, line_width=width)


def note(p, x, y, txt):
    p.text([x], [y], text=[txt], text_color=MAGENTA, text_font=value("Liberation Sans"), text_font_style="bold",
           text_font_size="12.5px", text_align="center", text_baseline="middle")


panels = []

# 1 FSC
d, p = panel(84, 14, 350, 278, (0, 1050), (0, 1050), k_ticks, k_labels, k_minor, k_ticks, k_labels, k_minor, blur=1.5)
polys(d, fsc_x, fsc_y, fsc_level)
spans(p, [1036] * 3, [1046] * 3, fsc_edge_lo, fsc_edge_hi, fsc_edge_level)
spans(p, [2], [7], [30], [900], [-2])
dots(p, fsc_dot_x, fsc_dot_y, alpha=.6)
p.line(fsc_gate_x[:3], fsc_gate_y[:3], line_color="#ff70e0", line_width=1.6)
p.line(fsc_gate_x[2:], fsc_gate_y[2:], line_color="#c020d8", line_width=1.2)
note(p, 118, 270, "86.7")

# 2 Time
d, p = panel(456, 14, 717, 273, (0, 527), (0, 1049), t_ticks, t_labels, t_minor, k_ticks, k_labels, k_minor, blur=1.2)
for s, e in zip(time_band_start, time_band_end):
    spans(d, [s] * len(time_low), [e] * len(time_low), time_low, time_high, time_level)
spans(d, time_bright_start, time_bright_end, time_bright_low, time_bright_high, [2.5])
spans(d, time_red_start, time_red_end, time_red_low, time_red_high, [10] * 5)
spans(d, time_strip_start, time_strip_end, time_strip_low, time_strip_high, time_strip_level)
dots(p, time_white_x, time_white_y, color="white", size=2, alpha=.9)
p.quad(left=[3], right=[404], bottom=[8], top=[1046], fill_color=None, line_color="#ff70e6", line_width=2)
p.quad(left=[8], right=[59], bottom=[975], top=[1038], fill_color="white", line_color=None)
note(p, 33, 1005, "84.2")

# 3 CD45
d, p = panel(844, 14, 1096, 279, (3.086, 7.25), (0, 1050), cd45_x_ticks, cd45_x_labels, log_minor(4, 8), k_ticks, k_labels, k_minor, clip=True)
polys(d, cd45_x, cd45_y, cd45_level)
ellipses(d, cd45_e_x, cd45_e_y, cd45_e_w, cd45_e_h, cd45_e_level)
spans(d, cd45_strip_start, cd45_strip_end, cd45_strip_low, cd45_strip_high, cd45_strip_level)
hatch(p, cd45_left_x, cd45_left_y, scale=5, weight=.6, color="white", alpha=.75)
hatch(p, cd45_dense_x, cd45_dense_y, scale=4)
dots(p, cd45_dot_x, cd45_dot_y)
gate(p, cd45_gate_x, cd45_gate_y, width=1.3, color="#e040e0")
p.quad(left=[3.17], right=[3.6], bottom=[5], top=[61], fill_color="white", line_color=None)
note(p, 3.385, 33, "13.5")

# 4 CD133
d, p = panel(72, 367, 345, 640, (2.987, 7.476), (2.969, 7.456), dec_ticks, dec_labels, log_minor(3, 8), cd133_y_ticks, cd133_y_labels, log_minor(4, 8), blur=2)
ellipses(d, cd133_blob_x, cd133_blob_y, cd133_blob_w, cd133_blob_h, cd133_blob_level)
dots(p, cd133_x, cd133_y, size=2.3, alpha=1)
dots(p, cd133_hot_x, cd133_hot_y, color="#ffd000")
for x, y in zip(cd133_gate_x, cd133_gate_y):
    gate(p, x, y, width=2)
note(p, 3.39, 7.3, "0.0967")
note(p, 7.22, 7.3, "50.2")
note(p, 3.22, 3.08, "7.06")
note(p, 7.32, 3.08, "42")

# 5 CD34
d, p = panel(450, 369, 714, 632, (3.13, 7.46), (0, 1046), cd34_x_ticks, cd34_x_labels, log_minor(4, 8), k_ticks, k_labels, k_minor, blur=0.8)
polys(d, cd34_x, cd34_y, cd34_level)
d.patch(cd34_h_x, cd34_h_y, fill_color=PALETTE[-0.5], line_color=None)
hatch(p, cd34_sparse_x, cd34_sparse_y, scale=5)
dots(p, cd34_dot_x, cd34_dot_y)
gate(p, cd34_gate_x, cd34_gate_y)
note(p, 4.62, 330, "7.05")

# 6 SYTO
d, p = panel(844, 369, 1096, 632, (2.762, 7.268), (0, 1048), syto_x_ticks, syto_x_labels, log_minor(4, 8), k_ticks, k_labels, k_minor, clip=True, blur=1.5)
polys(d, syto_x, syto_y, syto_level)
ellipses(d, syto_e_x, syto_e_y, syto_e_w, syto_e_h, syto_e_level)
hatch(p, syto_dense_x, syto_dense_y, scale=4)
dots(p, syto_dot_x, syto_dot_y)
gate(p, syto_gate_x, syto_gate_y, width=2)
note(p, 4.67, 513, "3.59")


def gated(fl, ft, fr, fb, xr, yr, xt, xl, xm, bx, by, bw, bh, px, py, hx, hy, gates, lx, ly, lab):
    d, p = panel(fl, ft, fr, fb, xr, yr, xt, xl, xm, k_ticks, k_labels, k_minor, blur=1.5)
    ellipses(d, bx, by, bw, bh, [-3, -1])
    dots(p, px, py, alpha=1)
    dots(p, hx, hy, color="#20d060")
    dots(p, hx[:4], hy[:4], color="#ffd000")
    for x, y in gates:
        gate(p, x, y, width=2)
    note(p, lx, ly, lab)


gated(363, 762, 628, 1026, (2.98, 7.44), (0, 1050), low_x_ticks, dec_labels, log_minor(3, 8),
      cd276a_blob_x, cd276a_blob_y, cd276a_blob_w, cd276a_blob_h, cd276a_x, cd276a_y, cd276a_hot_x, cd276a_hot_y,
      [(cd276a_gate_x, cd276a_gate_y)], 4.73, 280, "2.12")
gated(707, 760, 973, 1024, (2.97, 7.49), (0, 1050), low0_x_ticks, low0_x_labels, log_minor(4, 8),
      cd309a_blob_x, cd309a_blob_y, cd309a_blob_w, cd309a_blob_h, cd309a_x, cd309a_y, cd309a_hot_x, cd309a_hot_y,
      list(zip(cd309a_gate_x, cd309a_gate_y)), 4.57, 272, "0.771")
gated(349, 1133, 615, 1399, (2.98, 7.44), (0, 1058), low_x_ticks, dec_labels, log_minor(3, 8),
      cd276b_blob_x, cd276b_blob_y, cd276b_blob_w, cd276b_blob_h, cd276b_x, cd276b_y, cd276b_hot_x, cd276b_hot_y,
      [(cd276b_gate_x, cd276b_gate_y)], 4.74, 283, "2.76")
gated(707, 1133, 973, 1398, (2.97, 7.49), (0, 1055), low0_x_ticks, low0_x_labels, log_minor(4, 8),
      cd309b_blob_x, cd309b_blob_y, cd309b_blob_w, cd309b_blob_h, cd309b_x, cd309b_y, cd309b_hot_x, cd309b_hot_y,
      list(zip(cd309b_gate_x, cd309b_gate_y)), 4.57, 279, "1.61")

# overlay: free text and arrows in page pixels
ov = figure(width=WIN_W, height=WIN_H, x_range=Range1d(0, WIN_W), y_range=Range1d(WIN_H, 0), output_backend="svg",
            toolbar_location=None, min_border_left=0, min_border_right=0, min_border_top=0, min_border_bottom=0,
            x_axis_type=None, y_axis_type=None,
            background_fill_color=None, border_fill_color=None, outline_line_color=None,
            styles={"position": "absolute", "left": "0px", "top": "0px"})
ov.grid.visible = False
FONT = value("Lato")
ov.text(title_x, title_y, text=title_text, text_font=FONT, text_font_size="21.5px", text_color="#111111", text_align="center", text_baseline="middle")
ov.text([918], [354], text=["LIVE/DEAD AQUA"], text_font=FONT, text_font_size="20.5px", text_color="#111111", text_align="left", text_baseline="middle")
ov.text(ylab_x, ylab_y, text=ylab_text, angle=1.5708, text_font=FONT, text_font_size="21.5px", text_color="#111111", text_align="center", text_baseline="middle")
for a, b, c, e in zip(arrow_x0, arrow_y0, arrow_x1, arrow_y1):
    ov.add_layout(Arrow(end=NormalHead(size=13, fill_color="black", line_color="black"), x_start=a, y_start=b, x_end=c, y_end=e,
                        line_color="#111111", line_width=1.6))
panels.append(ov)

open("out.html", "w").write(file_html(panels, INLINE))
